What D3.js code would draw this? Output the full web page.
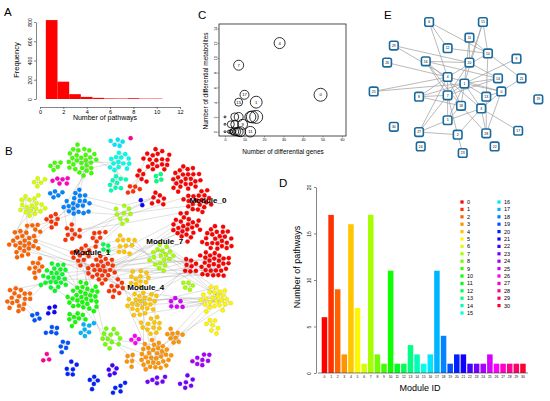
<!DOCTYPE html>
<html>
<head>
<meta charset="UTF-8">
<script src="https://d3js.org/d3.v7.min.js"></script>
<style>
  body { margin: 0; background: #fff; font-family: "Liberation Sans", Arial, sans-serif; }
  svg { display: block; }
  text { font-family: "Liberation Sans", Arial, sans-serif; fill: #000; }
  .panel { font-size: 11.5px; }
</style>
</head>
<body>
<svg width="550" height="401"></svg>
<script>
// ---------- data ----------
// A: genes per number of pathways
const histBins = [1, 2, 3, 4, 5, 6, 7, 8, 9, 10];
const histFreq = [820, 180, 50, 22, 12, 6, 5, 8, 4, 4];
const histXTicks = [0, 2, 4, 6, 8, 10, 12];
const histYTicks = [0, 200, 400, 600, 800];

// C: differential genes vs metabolites per module (size = module size)
const cLabels = ["0", "4", "7", "17", "15", "1", "", "", "", "", "", "", "", "9", "", "", "", "", "", "11", "", "", "", "", ""];
const cGenes  = [49, 28, 7, 10, 7, 16, 5, 7, 13, 14, 16, 3, 5, 9, 4, 5, 6, 7, 8, 13, 0, 0, 0, 2, 3];
const cMetab  = [5, 12, 9, 5, 4, 4, 2, 2, 2, 2, 2, 1, 1, 1, 0, 0, 0, 0, 0, 0, 2, 1, 0, 0, 0];
const cSize   = [180, 130, 107, 86, 68, 150, 68, 86, 129, 153, 180, 52, 68, 107, 38, 68, 68, 86, 107, 120, 4, 4, 4, 10, 17];
const cXTicks = [0, 10, 20, 30, 40, 50, 60];
const cYTicks = [0, 2, 4, 6, 8, 10, 12, 14];

// D: pathways per module
const moduleIds = ["0","1","2","3","4","5","6","7","8","9","10","11","12","13","14","15",
                   "16","17","18","19","20","21","22","23","24","25","26","27","28","29","30"];
const modulePathways = [6, 17, 9, 2, 16, 7, 1, 17, 2, 1, 11, 1, 1, 3, 2, 1, 2, 11, 4, 1, 2, 2, 1, 1, 1, 2, 1, 1, 1, 1, 1];
const dYTicks = [0, 5, 10, 15, 20];

// E: module network (layout in 0-100 units)
const eNames = ["6","15","11","29","12","10","9","26","16","20","4","14","21","1","25","0",
                "8","7","13","19","18","3","5","30","27","28","17","2","24","22","23"];
const eX = [34, 66, 58, 13, 45, 69, 86, 9, 32, 58, 45, 75, 89, 55, 1, 77, 28, 45, 68, 99, 53, 65, 45, 13, 28, 68, 87, 51, 29, 73, 54];
const eY = [0, 0, 12, 18, 20, 24, 28, 31, 30, 31, 42, 43, 43, 47, 53, 53, 57, 56, 57, 59, 64, 66, 75, 80, 84, 85, 83, 86, 95, 95, 100];
const eEdges = [["6","4"],["6","12"],["6","10"],["15","10"],["15","20"],["15","1"],["11","10"],["11","20"],["11","1"],
  ["29","4"],["29","20"],["12","10"],["10","21"],["10","4"],["10","13"],["9","1"],["16","20"],["16","7"],["16","18"],
  ["16","14"],["16","3"],["26","4"],["20","7"],["20","14"],["4","25"],["4","8"],["4","7"],["4","18"],["4","0"],
  ["14","1"],["21","0"],["1","8"],["1","7"],["1","18"],["1","0"],["1","13"],["1","3"],["1","5"],["25","1"],
  ["0","28"],["0","13"],["0","3"],["8","7"],["8","18"],["7","5"],["7","27"],["7","2"],["13","28"],["3","5"],
  ["3","28"],["3","17"],["3","2"],["5","27"],["27","2"],["2","23"],["18","28"],["18","5"],["27","4"],["14","7"]];

// B: gene network, node groups [key, module, x, y, count] in 0-100 units
const bGroups = [
  ["0a",0,58,12,18],["0b",0,69,19,24],["0c",0,73,26,20],["0d",0,69,35,24],["0e",0,80,41,24],
  ["0f",0,79,49,28],["0g",0,72,51,8],["0h",0,58,25,7],["0i",0,53,17,5],
  ["1a",1,38,51,24],["1b",1,31,46,12],["1c",1,27,38,9],["1d",1,19,33,7],["1e",1,43,58,9],
  ["1f",1,49,21,5],["1g",1,37,41,7],
  ["2a",2,9,42,24],["2b",2,7,63,18],["2c",2,14,52,9],["2d",2,12,36,5],
  ["3a",3,57,83,32],["3b",3,64,75,9],["3c",3,49,85,5],
  ["4a",4,53,64,24],["4b",4,46,42,11],["4c",4,52,56,12],["4d",4,56,72,12],
  ["5a",5,80,63,24],["5b",5,79,72,7],
  ["6a",6,12,28,18],["6b",6,15,20,5],
  ["7a",7,59,47,18],["7b",7,46,31,9],["7c",7,69,57,5],
  ["8a",8,41,77,12],
  ["9a",9,30,11,28],["9b",9,22,14,5],
  ["10a",10,31,62,30],["10b",10,30,69,9],
  ["11a",11,20,54,24],
  ["12a",12,38,44,4],
  ["13a",13,58,15,4],
  ["14a",14,44,19,9],
  ["15a",15,44,12,14],
  ["16a",16,44,6,5],
  ["17a",17,31,72,7],
  ["18a",18,28,27,20],["18b",18,21,23,5],
  ["19a",19,14,69,4],["19b",19,19,74,5],["19c",19,23,80,5],
  ["20a",20,26,88,6],["20b",20,35,93,5],["20c",20,44,95,5],
  ["21a",21,19,67,4],["21b",21,52,26,2],
  ["22a",22,42,88,5],
  ["23a",23,58,91,6],["23b",23,69,93,6],
  ["24a",24,75,85,8],
  ["25a",25,65,64,6],
  ["26a",26,51,78,4],
  ["27a",27,22,19,6],
  ["28a",28,17,84,3],["28b",28,47,4,1]
];
const bCross = [
  ["1a","0d",6],["1a","4a",5],["1a","2a",5],["1a","11a",4],["1a","7a",5],["7a","0f",4],["7a","5a",4],
  ["4a","5a",6],["4a","3a",5],["10a","11a",4],["10a","8a",3],["18a","9a",3],["18a","1c",3],["14a","15a",3],
  ["0a","1f",3],["7b","18a",3],["3a","5a",4],["4c","0g",3],["6a","2a",4],["2b","11a",3],["9a","15a",3],
  ["1b","4b",4],["7b","0h",3],["5a","25a",3],["3a","8a",3],["19a","2b",2],["1g","7b",3],["4b","7a",3],
  ["1a","0f",4],["1c","7b",3],["4a","0g",3],["2a","18a",3],["1b","10a",4],["0c","7b",3]
];
const bLabels = [["Module_0", 77, 27], ["Module_7", 61, 42], ["Module_1", 34, 46], ["Module_4", 54, 59]];

// ---------- drawing ----------
const svg = d3.select("svg");
svg.append("rect").attr("width", 550).attr("height", 401).attr("fill", "#fff");
const rainbow = i => d3.hsl(i * 360 / 31, 1, 0.5).formatHex();

function rotLabels(g, off) {
  g.selectAll(".tick text").attr("transform", "rotate(-90)")
    .attr("x", 0).attr("y", -off).attr("dy", 0).attr("text-anchor", "middle");
}

// ----- A -----
const gA = svg.append("g");
const xA = d3.scaleLinear().domain([0, 12]).range([40, 180]);
const yA = d3.scaleLinear().domain([0, 800]).range([99, 22]);
gA.selectAll("rect").data(histBins).join("rect")
  .attr("x", d => xA(d - 0.5)).attr("width", d => xA(d + 0.5) - xA(d - 0.5))
  .attr("y", (d, i) => yA(histFreq[i])).attr("height", (d, i) => yA(0) - yA(histFreq[i]))
  .attr("fill", "#ff0000");
gA.append("g").attr("transform", "translate(0,107)")
  .call(d3.axisBottom(xA).tickValues(histXTicks).tickSize(2).tickSizeOuter(0).tickPadding(1))
  .call(g => g.selectAll("text").attr("font-size", 5.5));
gA.append("g").attr("transform", "translate(36,0)")
  .call(d3.axisLeft(yA).tickValues(histYTicks).tickSize(2).tickSizeOuter(0))
  .call(g => g.selectAll("text").attr("font-size", 5))
  .call(g => rotLabels(g, 4));
gA.selectAll(".domain, .tick line").attr("stroke", "#333").attr("stroke-width", 0.6);
gA.append("text").attr("x", 105).attr("y", 120).attr("text-anchor", "middle").attr("font-size", 7).text("Number of pathways");
gA.append("text").attr("transform", "translate(19,60) rotate(-90)").attr("text-anchor", "middle").attr("font-size", 7.5).text("Frequency");
svg.append("text").attr("class", "panel").attr("x", 4).attr("y", 16).text("A");

// ----- C -----
const gC = svg.append("g");
const xC = d3.scaleLinear().domain([0, 60]).range([225, 342]);
const yC = d3.scaleLinear().domain([0, 14]).range([131.7, 28.3]);
const rC = d3.scaleSqrt().domain([0, 180]).range([0, 6.5]);
gC.append("rect").attr("x", 219).attr("y", 24).attr("width", 127).attr("height", 112)
  .attr("fill", "none").attr("stroke", "#222").attr("stroke-width", 0.8);
gC.append("g").attr("transform", "translate(0,136)")
  .call(d3.axisBottom(xC).tickValues(cXTicks).tickSize(1.5).tickPadding(1))
  .call(g => g.select(".domain").remove())
  .call(g => g.selectAll("text").attr("font-size", 3.6).attr("fill", "#444"));
gC.append("g").attr("transform", "translate(219,0)")
  .call(d3.axisLeft(yC).tickValues(cYTicks).tickSize(1.5))
  .call(g => g.select(".domain").remove())
  .call(g => g.selectAll("text").attr("font-size", 3.6).attr("fill", "#444"))
  .call(g => rotLabels(g, 2.5));
gC.selectAll(".tick line").attr("stroke", "#444").attr("stroke-width", 0.5);
const cIdx = d3.range(cGenes.length);
gC.selectAll("circle").data(cIdx).join("circle")
  .attr("cx", i => xC(cGenes[i])).attr("cy", i => yC(cMetab[i])).attr("r", i => rC(cSize[i]))
  .attr("fill", "none").attr("stroke", "#000").attr("stroke-width", 0.8);
gC.selectAll("text.lab").data(cIdx.filter(i => cLabels[i])).join("text").attr("class", "lab")
  .attr("x", i => xC(cGenes[i])).attr("y", i => yC(cMetab[i]) + 1.5)
  .attr("text-anchor", "middle").attr("font-size", 4.2).text(i => cLabels[i]);
gC.append("text").attr("x", 283).attr("y", 154).attr("text-anchor", "middle").attr("font-size", 6.5).text("Number of differential genes");
gC.append("text").attr("transform", "translate(208,81) rotate(-90)").attr("text-anchor", "middle").attr("font-size", 6.5).text("Number of differential metabolites");
svg.append("text").attr("class", "panel").attr("x", 198).attr("y", 19).text("C");

// ----- E -----
const gE = svg.append("g");
const xE = d3.scaleLinear().domain([0, 100]).range([372, 540]);
const yE = d3.scaleLinear().domain([0, 100]).range([22, 153]);
const ePos = new Map(eNames.map((n, i) => [n, [xE(eX[i]), yE(eY[i])]]));
gE.selectAll("line").data(eEdges).join("line")
  .attr("x1", d => ePos.get(d[0])[0]).attr("y1", d => ePos.get(d[0])[1])
  .attr("x2", d => ePos.get(d[1])[0]).attr("y2", d => ePos.get(d[1])[1])
  .attr("stroke", "#9c9c9c").attr("stroke-width", 0.7);
const eNode = gE.selectAll("g.n").data(eNames).join("g").attr("class", "n")
  .attr("transform", d => `translate(${ePos.get(d)[0]},${ePos.get(d)[1]})`);
eNode.append("rect").attr("x", -4.3).attr("y", -4.3).attr("width", 8.6).attr("height", 8.6).attr("rx", 1.8)
  .attr("fill", "#fff").attr("stroke", "#1b6a9e").attr("stroke-width", 1.6);
eNode.append("text").attr("text-anchor", "middle").attr("y", 1.2).attr("font-size", 3.4).text(d => d);
svg.append("text").attr("class", "panel").attr("x", 384).attr("y", 19).text("E");

// ----- D -----
const gD = svg.append("g");
const xD = d3.scaleBand().domain(moduleIds).range([321.7, 525.7]).paddingInner(0.1667).paddingOuter(0);
const yD = d3.scaleLinear().domain([0, 20]).range([373, 187]);
gD.selectAll("rect").data(moduleIds).join("rect")
  .attr("x", d => xD(d)).attr("width", xD.bandwidth())
  .attr("y", (d, i) => yD(modulePathways[i])).attr("height", (d, i) => yD(0) - yD(modulePathways[i]))
  .attr("fill", (d, i) => rainbow(i));
gD.append("line").attr("x1", 318).attr("x2", 528).attr("y1", 373).attr("y2", 373).attr("stroke", "#333").attr("stroke-width", 0.6);
gD.selectAll("text.xt").data(moduleIds).join("text").attr("class", "xt")
  .attr("x", d => xD(d) + xD.bandwidth() / 2).attr("y", 378).attr("text-anchor", "middle")
  .attr("font-size", 3.4).attr("fill", "#555").text(d => d);
gD.append("g").attr("transform", "translate(316,0)")
  .call(d3.axisLeft(yD).tickValues(dYTicks).tickSize(2).tickSizeOuter(0))
  .call(g => g.selectAll("text").attr("font-size", 5).attr("fill", "#444"))
  .call(g => rotLabels(g, 5))
  .call(g => g.selectAll(".domain, .tick line").attr("stroke", "#333").attr("stroke-width", 0.6));
gD.append("text").attr("x", 420).attr("y", 391).attr("text-anchor", "middle").attr("font-size", 9).text("Module ID");
gD.append("text").attr("transform", "translate(300,267) rotate(-90)").attr("text-anchor", "middle").attr("font-size", 9).text("Number of pathways");
const leg = gD.selectAll("g.leg").data(moduleIds).join("g").attr("class", "leg")
  .attr("transform", (d, i) => i < 16 ? `translate(462,${202 + i * 7.4})` : `translate(499,${202 + (i - 16) * 7.4})`);
leg.append("rect").attr("x", -1.6).attr("y", -1.6).attr("width", 3.2).attr("height", 3.2).attr("fill", (d, i) => rainbow(i));
leg.append("text").attr("x", 5).attr("y", 2).attr("font-size", 5.5).attr("fill", "#333").text(d => d);
svg.append("text").attr("class", "panel").attr("x", 279).attr("y", 187).text("D");

// ----- B -----
const gB = svg.append("g");
const xB = d3.scaleLinear().domain([0, 100]).range([0, 270]);
const yB = d3.scaleLinear().domain([0, 100]).range([130, 401]);
const bNodes = [], treeLinks = [], crossLinks = [], groupNodes = {};
bGroups.forEach(([key, m, gx, gy, n]) => {
  const arr = [];
  for (let j = 0; j < n; j++) {
    const nd = { m, tx: xB(gx), ty: yB(gy), x: xB(gx), y: yB(gy) };
    bNodes.push(nd); arr.push(nd);
    if (j > 0) treeLinks.push({ source: arr[Math.floor((j - 1) / 2)], target: nd });
    if (j > 2 && j % 3 === 0) treeLinks.push({ source: arr[0], target: nd });
  }
  groupNodes[key] = arr;
});
bCross.forEach(([a, b, k]) => {
  const A = groupNodes[a], B = groupNodes[b];
  for (let i = 0; i < k; i++) crossLinks.push({ source: A[(i * 5) % A.length], target: B[(i * 7 + 1) % B.length] });
});
const sim = d3.forceSimulation(bNodes)
  .force("link", d3.forceLink(treeLinks).distance(5).strength(0.4))
  .force("charge", d3.forceManyBody().strength(-2.5).distanceMax(15))
  .force("x", d3.forceX(d => d.tx).strength(0.12))
  .force("y", d3.forceY(d => d.ty).strength(0.12))
  .force("collide", d3.forceCollide(2.6))
  .stop();
for (let i = 0; i < 400; i++) sim.tick();
gB.selectAll("line").data(treeLinks.concat(crossLinks)).join("line")
  .attr("x1", d => d.source.x).attr("y1", d => d.source.y).attr("x2", d => d.target.x).attr("y2", d => d.target.y)
  .attr("stroke", "#9a9a9a").attr("stroke-width", 0.35).attr("opacity", 0.85);
gB.selectAll("circle").data(bNodes).join("circle")
  .attr("cx", d => d.x).attr("cy", d => d.y).attr("r", 2.1)
  .attr("fill", d => rainbow(d.m)).attr("stroke", d => d3.color(rainbow(d.m)).darker(0.7)).attr("stroke-width", 0.3);
gB.selectAll("text").data(bLabels).join("text")
  .attr("x", d => xB(d[1])).attr("y", d => yB(d[2])).attr("text-anchor", "middle")
  .attr("font-size", 8).attr("font-weight", "bold").text(d => d[0]);
svg.append("text").attr("class", "panel").attr("x", 5).attr("y", 155).text("B");
</script>
</body>
</html>
